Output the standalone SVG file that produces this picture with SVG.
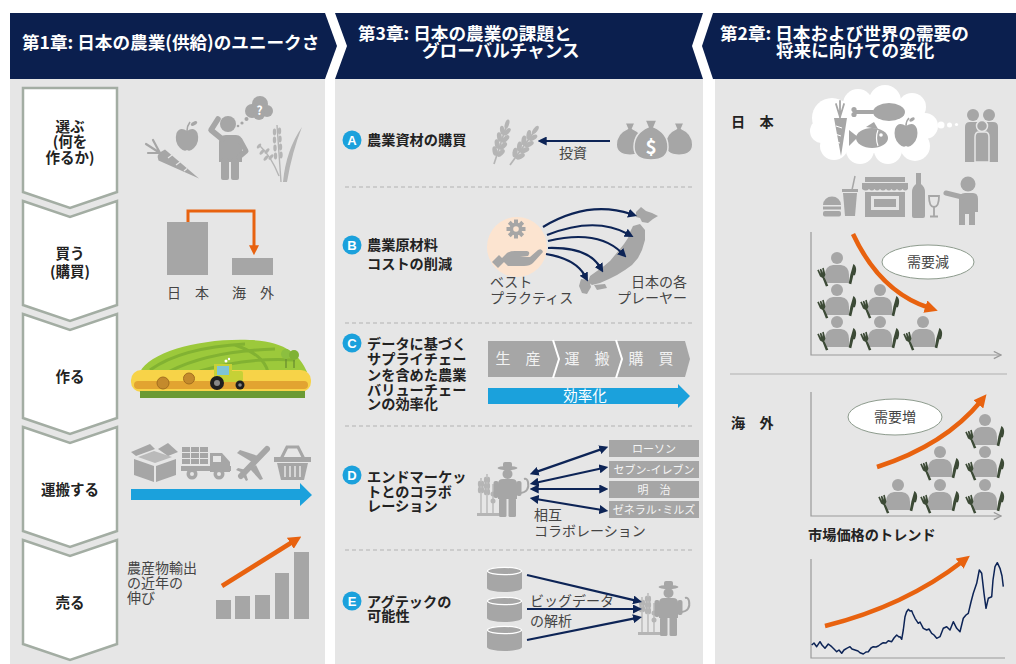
<svg xmlns="http://www.w3.org/2000/svg" width="1016" height="664" viewBox="0 0 1016 664">
<style>
text{font-family:"Noto Sans CJK JP","Noto Sans",sans-serif}
.hd{fill:#fff;font-size:17.6px;font-weight:bold}
.step{fill:#222;font-size:14.5px;font-weight:bold;text-anchor:middle}
.lbl{fill:#222;font-size:14.2px;font-weight:bold}
.txt{fill:#444;font-size:14px}
.ico{fill:#a6a6a6}
.lt{fill:#b5b5b5}
.panel{fill:#e6e6e6}
.chev{fill:#fff;stroke:#a3ada3;stroke-width:2.5}
.sep{stroke:#b2b2b2;stroke-width:1;stroke-dasharray:4 3;fill:none}
.badge{fill:#1ba1dc}
.bt{fill:#fff;font-size:13px;font-weight:bold;text-anchor:middle;font-family:"Liberation Sans",sans-serif}
.nv{stroke:#0d2456;stroke-width:2.2;fill:none}
.or{stroke:#e8620f;stroke-width:4.5;fill:none}
.axis{stroke:#9a9a9a;stroke-width:1.2;fill:none}
.tag{fill:#a6a6a6}
.tt{fill:#f5f5f5;font-size:11px;text-anchor:middle}
.util{fill:#3c4a36}
.blue{fill:#1ba1dc}
.oval{fill:#fff;stroke:#8d9b8d;stroke-width:1}
.seg{fill:#f2f2f2;font-size:15px;text-anchor:middle}
</style>
<defs>
<marker id="hNv" viewBox="0 0 10 10" refX="3" refY="5" markerWidth="9" markerHeight="9" markerUnits="userSpaceOnUse" orient="auto-start-reverse"><path d="M0,0L10,5L0,10Z" fill="#0d2456"/></marker>
<marker id="hOr" viewBox="0 0 12 12" refX="4" refY="6" markerWidth="13" markerHeight="13" markerUnits="userSpaceOnUse" orient="auto"><path d="M0,0L12,6L0,12Z" fill="#e8620f"/></marker>
<marker id="hOrS" viewBox="0 0 12 12" refX="4" refY="6" markerWidth="10" markerHeight="10" markerUnits="userSpaceOnUse" orient="auto"><path d="M0,0L12,6L0,12Z" fill="#e8620f"/></marker>
<marker id="hAx" viewBox="0 0 10 10" refX="9" refY="5" markerWidth="9" markerHeight="9" markerUnits="userSpaceOnUse" orient="auto"><path d="M1,1L9,5L1,9" fill="none" stroke="#9a9a9a" stroke-width="1.4"/></marker>
<!-- seated diner holding fork and knife, origin = head centre -->
<g id="diner">
<circle cx="0" cy="0" r="6" class="ico"/>
<path class="ico" d="M-12,25V17Q-12,8 -4,7H4Q12,8 12,17V25Z"/>
<g class="util">
<path d="M-18,9h1.4l.4,4 .6-4h1.2l.4,4 .6-4h1.4l-.6,6-1.6,2 .6,8h-2.2l-.2-8-1.6-2z" transform="rotate(-20 -15 16) translate(-17 -18) scale(1.15) translate(17 16)"/>
<path d="M13,7c3,1 4.5,4 4,9l-1.3,.4 .4,8h-2.3l-.8-8z" transform="rotate(16 15 15) translate(15 -2) scale(1.15) translate(-14 0)"/>
</g>
</g>
<!-- farmer with sickle beside wheat, origin = top-left -->
<g id="farmer">
<rect class="lt" x="0" y="51" width="22" height="3"/>
<path d="M4,51V16M10,51V12M16,51V22" stroke="#b5b5b5" stroke-width="1.3" fill="none"/>
<g class="lt">
<ellipse cx="2.5" cy="22" rx="1.6" ry="3.2"/><ellipse cx="5.5" cy="22" rx="1.6" ry="3.2"/>
<ellipse cx="2.5" cy="28" rx="1.6" ry="3.2"/><ellipse cx="5.5" cy="28" rx="1.6" ry="3.2"/>
<ellipse cx="8.5" cy="18" rx="1.6" ry="3.2"/><ellipse cx="11.5" cy="18" rx="1.6" ry="3.2"/>
<ellipse cx="8.5" cy="24" rx="1.6" ry="3.2"/><ellipse cx="11.5" cy="24" rx="1.6" ry="3.2"/>
<ellipse cx="8.5" cy="30" rx="1.6" ry="3.2"/><ellipse cx="11.5" cy="30" rx="1.6" ry="3.2"/>
<circle cx="16" cy="32" r="2.5"/><circle cx="16" cy="39" r="2.5"/>
</g>
<g class="ico">
<rect x="26" y="0" width="9" height="6" rx="2"/>
<ellipse cx="30.5" cy="6" rx="10" ry="2"/>
<circle cx="30.5" cy="12" r="5"/>
<path d="M21,22Q21,17 26,17H35Q40,17 40,22V37H21Z"/>
<rect x="22" y="36" width="7.5" height="19" rx="1.5"/>
<rect x="31.5" y="36" width="7.5" height="19" rx="1.5"/>
<rect x="16.5" y="19" width="5" height="17" rx="2"/>
<rect x="39.5" y="19" width="5" height="15" rx="2"/>
</g>
<path d="M43,31Q53,30 51,20Q50,16 47,17" fill="none" stroke="#a6a6a6" stroke-width="2"/>
</g>
<!-- ear of grain, origin = stem base -->
<g id="ear">
<path d="M0,0V-42" stroke="#b5b5b5" stroke-width="1.6" fill="none"/>
<g class="lt">
<ellipse cx="-3" cy="-12" rx="2.3" ry="4.6" transform="rotate(-28 -3 -12)"/>
<ellipse cx="3" cy="-12" rx="2.3" ry="4.6" transform="rotate(28 3 -12)"/>
<ellipse cx="-3" cy="-19" rx="2.3" ry="4.6" transform="rotate(-28 -3 -19)"/>
<ellipse cx="3" cy="-19" rx="2.3" ry="4.6" transform="rotate(28 3 -19)"/>
<ellipse cx="-3" cy="-26" rx="2.3" ry="4.6" transform="rotate(-28 -3 -26)"/>
<ellipse cx="3" cy="-26" rx="2.3" ry="4.6" transform="rotate(28 3 -26)"/>
<ellipse cx="-2.5" cy="-33" rx="2.1" ry="4.3" transform="rotate(-25 -2.5 -33)"/>
<ellipse cx="2.5" cy="-33" rx="2.1" ry="4.3" transform="rotate(25 2.5 -33)"/>
<ellipse cx="0" cy="-40" rx="2" ry="4.5"/>
</g>
</g>
<!-- database cylinder, origin = top-left -->
<g id="db">
<path class="ico" d="M0,4A17.5,4 0 0 1 35,4V21A17.5,4 0 0 1 0,21Z"/>
<ellipse cx="17.5" cy="4" rx="17" ry="3.6" fill="none" stroke="#fff" stroke-width="1.3"/>
</g>
<!-- money bag, origin = top centre -->
<path id="bag" d="M-6,0H6L3,7Q17,13 17,27Q17,40 0,40Q-17,40 -17,27Q-17,13 -3,7Z"/>
</defs>

<!-- header band -->
<g id="header">
<path d="M10,13H325L337,46L325,79H10Z" fill="#0b1f4e"/>
<path d="M335,13H703L692,46L703,79H335L347,46Z" fill="#0b1f4e"/>
<path d="M713,13H1016V79H713L702,46Z" fill="#0b1f4e"/>
<text class="hd" x="22" y="49">第1章: 日本の農業(供給)のユニークさ</text>
<text class="hd" x="358" y="40">第3章: 日本の農業の課題と</text>
<text class="hd" x="422" y="57">グローバルチャンス</text>
<text class="hd" x="720" y="40">第2章: 日本および世界の需要の</text>
<text class="hd" x="776" y="57">将来に向けての変化</text>
</g>

<rect class="panel" x="10" y="79" width="315" height="585"/>
<rect class="panel" x="335" y="79" width="368" height="585"/>
<rect class="panel" x="715" y="79" width="301" height="585"/>

<!-- chapter 1: process steps -->
<g id="step-choose">
<path class="chev" d="M23,88H117V192L70,208L23,192Z"/>
<text class="step" x="70" y="132">選ぶ</text>
<text class="step" x="70" y="147">(何を</text>
<text class="step" x="70" y="163">作るか)</text>
</g>
<g id="step-buy">
<path class="chev" d="M23,201L70,217L117,201V305L70,321L23,305Z"/>
<text class="step" x="70" y="259">買う</text>
<text class="step" x="70" y="277">(購買)</text>
</g>
<g id="step-make">
<path class="chev" d="M23,314L70,330L117,314V418L70,434L23,418Z"/>
<text class="step" x="70" y="382">作る</text>
</g>
<g id="step-carry">
<path class="chev" d="M23,427L70,443L117,427V531L70,547L23,531Z"/>
<text class="step" x="70" y="495">運搬する</text>
</g>
<g id="step-sell">
<path class="chev" d="M23,540L70,556L117,540V644L70,660L23,644Z"/>
<text class="step" x="70" y="608">売る</text>
</g>

<!-- choose: crops and a thinking farmer -->
<g id="choose-icons">
<path class="ico" d="M165,149.5L199,178.5L158.5,160.5Q155,154 165,149.5Z"/>
<path d="M168,158l4-3M176,165l4-3M184,171l3-2.5" stroke="#e6e6e6" stroke-width="1.2"/>
<path d="M160,153L146,144M160,153L148,153M160,153L153,140" stroke="#a6a6a6" stroke-width="2.2" stroke-linecap="round"/>
<path class="ico" d="M187,131Q180,126 176.5,133Q174,142 180,148Q184,152 187,150Q190,152 194,148Q200,142 197.5,133Q194,126 187,131Z"/>
<path d="M187,131Q187,126 190,122" stroke="#a6a6a6" stroke-width="1.6" fill="none"/>
<ellipse class="ico" cx="194" cy="123.5" rx="3.5" ry="1.8" transform="rotate(-30 194 123.5)"/>
<circle class="ico" cx="228" cy="124" r="8"/>
<path class="ico" d="M219,142Q219,135 226,135H236Q242,135 242,142V162H219Z"/>
<rect class="ico" x="221" y="158" width="8" height="22" rx="2"/>
<rect class="ico" x="231" y="158" width="8" height="22" rx="2"/>
<path d="M222,139L211,130L218,119" stroke="#a6a6a6" stroke-width="5.5" fill="none" stroke-linecap="round" stroke-linejoin="round"/>
<path d="M240,140L246,151L239,157" stroke="#a6a6a6" stroke-width="5" fill="none" stroke-linecap="round" stroke-linejoin="round"/>
<circle class="ico" cx="238" cy="126" r="1.3"/>
<circle class="ico" cx="242" cy="123" r="1.6"/>
<circle class="ico" cx="246.5" cy="119" r="2"/>
<g class="ico">
<circle cx="252" cy="111" r="7"/><circle cx="260" cy="104" r="8"/><circle cx="267" cy="111" r="6"/><circle cx="259" cy="114" r="6"/>
</g>
<text x="259.5" y="115" fill="#fff" font-size="12" font-weight="bold" text-anchor="middle" font-family="Liberation Sans, sans-serif">?</text>
<path class="lt" d="M283,182Q286,150 302,127Q292,152 287,182Z"/>
<path d="M281,182Q279,152 277,125M279,176Q271,156 260,146" stroke="#b5b5b5" stroke-width="1.4" fill="none"/>
<g class="lt">
<ellipse cx="274.5" cy="132" rx="1.7" ry="3.4"/><ellipse cx="279.5" cy="131" rx="1.7" ry="3.4"/>
<ellipse cx="274.5" cy="140" rx="1.7" ry="3.4"/><ellipse cx="280" cy="139" rx="1.7" ry="3.4"/>
<ellipse cx="275" cy="148" rx="1.7" ry="3.4"/><ellipse cx="280.5" cy="147" rx="1.7" ry="3.4"/>
<ellipse cx="275.5" cy="156" rx="1.7" ry="3.4"/><ellipse cx="281" cy="155" rx="1.7" ry="3.4"/>
<ellipse cx="262" cy="152" rx="1.6" ry="3.2" transform="rotate(40 262 152)"/>
<ellipse cx="267" cy="151" rx="1.6" ry="3.2" transform="rotate(40 267 151)"/>
<ellipse cx="266" cy="158" rx="1.6" ry="3.2" transform="rotate(40 266 158)"/>
<ellipse cx="271" cy="157" rx="1.6" ry="3.2" transform="rotate(40 271 157)"/>
<ellipse cx="259" cy="146" rx="1.5" ry="3" transform="rotate(40 259 146)"/>
</g>
</g>

<!-- buy: domestic vs overseas -->
<g id="buy-chart">
<rect class="ico" x="167" y="222" width="41" height="53"/>
<rect class="ico" x="232" y="258" width="41" height="17"/>
<text class="txt" x="188" y="298" text-anchor="middle" fill="#333">日　本</text>
<text class="txt" x="253" y="298" text-anchor="middle" fill="#333">海　外</text>
</g>

<!-- make: farmland with tractor -->
<g id="farm">
<path d="M140,372C150,352 200,338 250,340C285,341 300,355 307,372Z" fill="#9cc93b"/>
<path d="M150,370C175,352 210,346 245,344M170,371C200,356 240,350 275,349M200,371C230,362 262,358 295,360M235,345C255,352 265,360 268,372" stroke="#82b232" stroke-width="3" fill="none"/>
<rect x="131" y="370" width="180" height="22" rx="10" fill="#f7d348"/>
<rect x="134" y="381" width="174" height="8" rx="4" fill="#e2a431"/>
<rect x="140" y="391" width="165" height="7" fill="#6b9a34"/>
<circle cx="163" cy="383" r="6" fill="#c48a2c" stroke="#a36f1f" stroke-width="1"/>
<circle cx="189" cy="378.5" r="5.5" fill="#c48a2c" stroke="#a36f1f" stroke-width="1"/>
<circle cx="286" cy="354" r="5" fill="#8cbf3f"/>
<circle cx="294" cy="355" r="5" fill="#7fb236"/>
<path d="M286,359V368M294,360V368" stroke="#6a8f30" stroke-width="1.3"/>
<rect x="221" y="371" width="22" height="11" rx="2" fill="#c6d136"/>
<path d="M214,364H232V381H214Z" fill="#c6d136"/>
<rect x="217" y="366" width="12" height="9" fill="#7ec4d6"/>
<circle cx="226" cy="361" r="1.5" fill="#fff"/><circle cx="229" cy="359" r="1.2" fill="#fff"/>
<circle cx="217" cy="383" r="7" fill="#1f1f1f"/><circle cx="217" cy="383" r="3" fill="#888"/>
<circle cx="240" cy="385" r="4.5" fill="#1f1f1f"/><circle cx="240" cy="385" r="1.8" fill="#888"/>
</g>

<!-- carry: transport chain -->
<g id="transport">
<path class="ico" d="M134,459L154,466V482L134,475Z"/>
<path class="ico" d="M156,466L176,459V475L156,482Z"/>
<path class="ico" d="M131,452L150,444L155,449L136,456Z"/>
<path class="ico" d="M158,449L168,443L178,452L168,456Z"/>
<path class="ico" d="M138,457L154,451L172,457L155,463Z" opacity=".7"/>
<g class="ico">
<rect x="182" y="447" width="8" height="5"/><rect x="191" y="447" width="8" height="5"/><rect x="200" y="447" width="8" height="5"/>
<rect x="182" y="453" width="8" height="5"/><rect x="191" y="453" width="8" height="5"/><rect x="200" y="453" width="8" height="5"/>
<rect x="182" y="459" width="8" height="5"/><rect x="191" y="459" width="8" height="5"/><rect x="200" y="459" width="8" height="5"/>
<path d="M210,453H222L230,462V472H210Z"/>
<rect x="181" y="466" width="50" height="5"/>
</g>
<rect x="213" y="456" width="8" height="6" fill="#e6e6e6"/>
<circle class="ico" cx="192" cy="474" r="5.5"/><circle cx="192" cy="474" r="2" fill="#e6e6e6"/>
<circle class="ico" cx="219" cy="474" r="5.5"/><circle cx="219" cy="474" r="2" fill="#e6e6e6"/>
<path d="M241,476L267,449" stroke="#a6a6a6" stroke-width="6" stroke-linecap="round"/>
<path class="ico" d="M252,462L237,453L240,450L258,456Z"/>
<path class="ico" d="M256,465L263,479L260,480L250,469Z"/>
<path class="ico" d="M243,473L236,470L238,468L246,470Z"/>
<path class="ico" d="M246,474L248,480L246,481L243,476Z"/>
<path d="M281,459L287,447H298L304,459" stroke="#a6a6a6" stroke-width="3" fill="none"/>
<rect class="ico" x="274" y="457" width="37" height="5"/>
<path class="ico" d="M277,463H308L304,480H281Z"/>
<path d="M285,466V477M290,466V477M295,466V477M300,466V477" stroke="#e6e6e6" stroke-width="1.5"/>
<path class="blue" d="M131,489H300V483L312,495L300,506V500H131Z"/>
</g>

<!-- sell: export growth -->
<g id="sell-chart">
<text class="txt" x="127" y="573" fill="#555">農産物輸出</text>
<text class="txt" x="127" y="588" fill="#555">の近年の</text>
<text class="txt" x="127" y="603" fill="#555">伸び</text>
<g class="ico">
<rect x="216" y="600" width="15" height="19"/>
<rect x="235" y="596" width="15" height="23"/>
<rect x="255" y="595" width="15" height="24"/>
<rect x="275" y="573" width="14" height="46"/>
<rect x="294" y="552" width="15" height="67"/>
</g>
</g>

<!-- chapter 3 -->
<g id="separators">
<path class="sep" d="M345,187H693M345,323H693M345,426H693M345,550H693"/>
</g>

<g id="item-a">
<circle class="badge" cx="352" cy="140" r="9.5"/>
<text class="bt" x="352" y="144.5">A</text>
<text class="lbl" x="367" y="145">農業資材の購買</text>
<use href="#ear" transform="translate(494,164) rotate(18) scale(1.05)"/>
<use href="#ear" transform="translate(510,165) rotate(36) scale(1.08)"/>
<text class="txt" x="573" y="158" text-anchor="middle">投資</text>
<g class="ico" stroke="#e6e6e6" stroke-width="1.5">
<use href="#bag" transform="translate(630,123) scale(0.8)"/>
<use href="#bag" transform="translate(679,123) scale(0.8)"/>
<use href="#bag" transform="translate(651,120)"/>
</g>
<text x="651" y="154" fill="#fff" font-size="19" font-weight="bold" text-anchor="middle" font-family="Liberation Sans, sans-serif">$</text>
</g>

<g id="item-b">
<circle class="badge" cx="352" cy="245" r="9.5"/>
<text class="bt" x="352" y="249.5">B</text>
<text class="lbl" x="367" y="250">農業原材料</text>
<text class="lbl" x="367" y="269">コストの削減</text>
<circle cx="517" cy="247" r="30" fill="#fce4d0"/>
<g transform="translate(516,229)" class="ico">
<circle r="6.5"/>
<rect x="-2" y="-9.5" width="4" height="5"/>
<rect x="-2" y="-9.5" width="4" height="5" transform="rotate(45)"/>
<rect x="-2" y="-9.5" width="4" height="5" transform="rotate(90)"/>
<rect x="-2" y="-9.5" width="4" height="5" transform="rotate(135)"/>
<rect x="-2" y="-9.5" width="4" height="5" transform="rotate(180)"/>
<rect x="-2" y="-9.5" width="4" height="5" transform="rotate(225)"/>
<rect x="-2" y="-9.5" width="4" height="5" transform="rotate(270)"/>
<rect x="-2" y="-9.5" width="4" height="5" transform="rotate(315)"/>
</g>
<circle cx="516" cy="229" r="2.8" fill="#fce4d0"/>
<path class="ico" d="M492,262L499,255L505,261L498,268Z"/>
<path class="ico" d="M501,259L507,253Q510,251 515,251L527,251Q531,252 528,256L520,257L530,257L538,250Q542,248 543,252L533,263Q530,266 524,266L508,266Z"/>
<g class="ico">
<path d="M636,212L641,207L646,211L652,213L658,216L653,219L648,223L642,222L640,218L636,217Z"/>
<path d="M633,226L640,224L645,230L645,240L642,250L638,258L632,265L625,270L617,275L609,279L600,283L592,285L588,282L590,276L597,271L604,266L610,261L615,255L620,249L624,244L628,238L630,232Z"/>
<path d="M581,279L589,280L591,287L587,294L582,293L579,286Z"/>
<path d="M594,285L605,284L607,288L597,290Z"/>
</g>
<text class="txt" x="490" y="287">ベスト</text>
<text class="txt" x="490" y="303">プラクティス</text>
<text class="txt" x="687" y="287" text-anchor="end">日本の各</text>
<text class="txt" x="687" y="303" text-anchor="end">プレーヤー</text>
</g>

<g id="item-c">
<circle class="badge" cx="352" cy="343" r="9.5"/>
<text class="bt" x="352" y="347.5">C</text>
<text class="lbl" x="367" y="349">データに基づく</text>
<text class="lbl" x="367" y="364">サプライチェー</text>
<text class="lbl" x="367" y="380">ンを含めた農業</text>
<text class="lbl" x="367" y="395">バリューチェー</text>
<text class="lbl" x="367" y="409">ンの効率化</text>
<path class="ico" d="M488,341H685L690,359L685,377H488Z"/>
<path d="M553,340L559,359L553,378M616,340L622,359L616,378" stroke="#fff" stroke-width="2" fill="none"/>
<text class="seg" x="518" y="364">生　産</text>
<text class="seg" x="587" y="364">運　搬</text>
<text class="seg" x="651" y="364">購　買</text>
<path class="blue" d="M488,388H678V384L690,396L678,408V404H488Z"/>
<text x="585" y="401" fill="#fff" font-size="14.5" text-anchor="middle">効率化</text>
</g>

<g id="item-d">
<circle class="badge" cx="352" cy="475" r="9.5"/>
<text class="bt" x="352" y="479.5">D</text>
<text class="lbl" x="367" y="482">エンドマーケッ</text>
<text class="lbl" x="367" y="497">トとのコラボ</text>
<text class="lbl" x="367" y="511">レーション</text>
<use href="#farmer" transform="translate(477,462)"/>
<rect class="tag" x="609" y="440" width="90" height="17"/>
<rect class="tag" x="609" y="461" width="90" height="17"/>
<rect class="tag" x="609" y="481" width="90" height="17"/>
<rect class="tag" x="609" y="501" width="90" height="17"/>
<text class="tt" x="654" y="452.5">ローソン</text>
<text class="tt" x="654" y="473.5">セブン-イレブン</text>
<text class="tt" x="654" y="493.5">明　治</text>
<text class="tt" x="654" y="513.5">ゼネラル･ミルズ</text>
<text class="txt" x="534" y="520">相互</text>
<text class="txt" x="534" y="536">コラボレーション</text>
</g>

<g id="item-e">
<circle class="badge" cx="352" cy="601" r="9.5"/>
<text class="bt" x="352" y="605.5">E</text>
<text class="lbl" x="367" y="607">アグテックの</text>
<text class="lbl" x="367" y="621">可能性</text>
<use href="#db" transform="translate(487,567)"/>
<use href="#db" transform="translate(487,597)"/>
<use href="#db" transform="translate(487,626)"/>
<text class="txt" x="530" y="606">ビッグデータ</text>
<text class="txt" x="530" y="626">の解析</text>
<use href="#farmer" transform="translate(638,581)"/>
</g>

<!-- chapter 2 -->
<g id="japan-demand">
<text class="lbl" x="731" y="127" font-size="14">日　本</text>
<g fill="#fff">
<ellipse cx="872" cy="127" rx="45" ry="26"/>
<circle cx="832" cy="118" r="20"/><circle cx="858" cy="104" r="15"/><circle cx="885" cy="101" r="16"/>
<circle cx="912" cy="107" r="14"/><circle cx="925" cy="126" r="13"/><circle cx="915" cy="146" r="15"/>
<circle cx="888" cy="150" r="14"/><circle cx="860" cy="150" r="14"/><circle cx="834" cy="146" r="14"/>
<circle cx="822" cy="131" r="12"/>
<circle cx="941" cy="125" r="3.5"/><circle cx="949.5" cy="125" r="2.5"/><circle cx="956.5" cy="124.5" r="1.6"/>
</g>
<path class="ico" d="M834,118H847L841,156Z"/>
<path d="M840,118L840,101M840,117L836,104M840,117L844,104" stroke="#a6a6a6" stroke-width="1.8" stroke-linecap="round"/>
<path d="M836,126l6,2M835,134l6,2M836,142l4,1" stroke="#fff" stroke-width="1"/>
<path d="M855,112H873" stroke="#a6a6a6" stroke-width="4" stroke-linecap="round"/>
<circle class="ico" cx="854" cy="109.5" r="2.6"/><circle class="ico" cx="854" cy="114.5" r="2.6"/>
<ellipse class="ico" cx="889" cy="112" rx="16" ry="9"/>
<path class="ico" d="M849,130L858,137L849,146Z"/>
<ellipse class="ico" cx="872" cy="138" rx="16" ry="10"/>
<path class="ico" d="M866,127L874,122L878,129Z"/>
<circle cx="881" cy="135" r="1.8" fill="#fff"/>
<path d="M878,130Q875,138 878,146" stroke="#fff" stroke-width="1.2" fill="none"/>
<path class="ico" d="M906,126Q898,121 895,129Q893,138 899,144Q903,148 906,146Q909,148 913,144Q919,138 917,129Q914,121 906,126Z"/>
<path d="M906,126Q906,121 909,118" stroke="#a6a6a6" stroke-width="1.5" fill="none"/>
<ellipse class="ico" cx="912" cy="119.5" rx="3" ry="1.6" transform="rotate(-30 912 119.5)"/>
<g class="ico">
<circle cx="973" cy="115" r="6"/><circle cx="989" cy="115" r="6"/>
<path d="M965,127Q965,122 970,122H977Q982,122 982,127V162H965Z"/>
<path d="M981,127Q981,122 986,122H993Q998,122 998,127V162H981Z"/>
</g>
<circle cx="982" cy="126" r="5.5" class="ico" stroke="#e6e6e6" stroke-width="1.5"/>
<path class="ico" d="M975,137Q975,132 979,132H985Q989,132 989,137V162H975Z" stroke="#e6e6e6" stroke-width="1.5"/>
<path class="ico" d="M823,205A9,8.5 0 0 1 841,205Z"/>
<rect class="ico" x="823" y="206.5" width="18" height="3"/>
<rect class="ico" x="823" y="211" width="18" height="5.5" rx="2"/>
<rect class="ico" x="842" y="189" width="16" height="3"/>
<path class="ico" d="M843,193H857L855,216H845Z"/>
<path d="M852,190L855,176" stroke="#a6a6a6" stroke-width="1.5"/>
<rect class="ico" x="865" y="177" width="40" height="5"/>
<path class="ico" d="M862,183H908V189Q905,192 902.5,189Q900,192 897,189Q894,192 891.5,189Q889,192 886,189Q883,192 880,189Q877,192 874.5,189Q872,192 869,189Q866,192 862,189Z"/>
<rect class="ico" x="865" y="192" width="40" height="25"/>
<rect x="871" y="196" width="28" height="14" fill="#e6e6e6"/>
<rect class="ico" x="874" y="199" width="22" height="8"/>
<rect class="ico" x="916" y="173" width="5" height="13"/>
<path class="ico" d="M916,184H921Q925,187 925,192V216Q925,218 923,218H914Q912,218 912,216V192Q912,187 916,184Z"/>
<path d="M929,196H939Q939,207 934,207Q929,207 929,196ZM934,207V216M930,216.5H938" stroke="#a6a6a6" stroke-width="1.8" fill="none"/>
<circle class="ico" cx="968" cy="184" r="7.5"/>
<path class="ico" d="M959,199Q959,193 965,193H973Q978,193 978,199V212H975V225H969V214H965V225H959Z"/>
<path d="M962,197L946,193" stroke="#a6a6a6" stroke-width="5" stroke-linecap="round"/>
</g>

<g id="japan-chart">
<path class="axis" d="M811,232V355H1001" marker-end="url(#hAx)"/>
<ellipse class="oval" cx="928" cy="262" rx="46" ry="17"/>
<text class="txt" x="928" y="267" text-anchor="middle">需要減</text>
<use href="#diner" x="837" y="258"/>
<use href="#diner" x="837" y="290"/>
<use href="#diner" x="880" y="290"/>
<use href="#diner" x="837" y="322"/>
<use href="#diner" x="880" y="322"/>
<use href="#diner" x="923" y="322"/>
</g>

<path d="M730,374H1007" stroke="#b0b0b0" stroke-width="1"/>

<g id="overseas-chart">
<text class="lbl" x="731" y="428" font-size="14">海　外</text>
<path class="axis" d="M811,392V516H1001" marker-end="url(#hAx)"/>
<ellipse class="oval" cx="895" cy="417" rx="47" ry="18"/>
<text class="txt" x="895" y="422" text-anchor="middle">需要増</text>
<use href="#diner" x="985" y="420"/>
<use href="#diner" x="940" y="452"/>
<use href="#diner" x="985" y="452"/>
<use href="#diner" x="898" y="485"/>
<use href="#diner" x="940" y="485"/>
<use href="#diner" x="985" y="485"/>
</g>

<g id="price-trend">
<text class="lbl" x="808" y="540" font-size="14.5">市場価格のトレンド</text>
<path d="M811,559V658H1005" stroke="#9a9a9a" stroke-width="1.2" fill="none"/>
<polyline fill="none" stroke="#0d2456" stroke-width="1.5" stroke-linejoin="round" points="811.7,645 814,643 816.7,646.7 820,641.7 822,645 825,648.3 828.3,644 831.7,646.7 834,649 836.7,651.7 839,650 841.7,653.3 844,650 846.7,648.3 850,646.7 852,649 855,650 858,651 860,652.7 863.3,654 866,652 868.3,651.7 871,648 873.3,646.7 876,647 878.3,646 881,644 883.3,642.7 886,643 888.3,640.7 891.7,641.7 894,638 896.7,635 899,637 900,636.7 901.7,639.3 903.3,630 905,616.7 906.5,612 908.3,609.3 910,611 911.7,610.7 913,614 915,618.3 918.3,623.3 920,622 923.3,628.3 926.7,630 929,629 931.7,633.3 934,635 936.7,638.3 940,636.7 943.3,628.3 946.7,626.7 950,630 953.3,621.7 956.7,628.3 960,631.7 963.3,618.3 966,615 968.3,613.3 971,602 973.3,593.3 976.7,583.3 979.3,570 981.7,573.3 984,593.3 986,608.3 988.3,598.3 991.7,596.7 993,580 995,566.7 997.3,562.7 1000,568.3 1002,576 1003.3,586.7"/>
</g>

<!-- connectors -->
<g id="connectors">
<path d="M188,222V211H254V248.5" stroke="#e8620f" stroke-width="3" fill="none" marker-end="url(#hOrS)"/>
<path class="or" d="M222,586L294,541" marker-end="url(#hOr)"/>
<path class="nv" d="M610,141H544" marker-end="url(#hNv)"/>
<path class="nv" d="M543,227Q588,200 631,214" marker-end="url(#hNv)"/>
<path class="nv" d="M547,235Q595,216 628,234" marker-end="url(#hNv)"/>
<path class="nv" d="M548,241Q598,229 622,253" marker-end="url(#hNv)"/>
<path class="nv" d="M548,248Q588,247 600,267" marker-end="url(#hNv)"/>
<path class="nv" d="M546,254Q576,259 585,276" marker-end="url(#hNv)"/>
<path class="nv" d="M535.7,472.1L602.3,448.9" marker-start="url(#hNv)" marker-end="url(#hNv)"/>
<path class="nv" d="M535.9,482.7L602.1,468.3" marker-start="url(#hNv)" marker-end="url(#hNv)"/>
<path class="nv" d="M536,489L602,489" marker-start="url(#hNv)" marker-end="url(#hNv)"/>
<path class="nv" d="M535.9,499L602.1,510" marker-start="url(#hNv)" marker-end="url(#hNv)"/>
<path class="nv" d="M527,575L635.9,600.6" marker-end="url(#hNv)"/>
<path class="nv" d="M527,609L635.7,609" marker-end="url(#hNv)"/>
<path class="nv" d="M527,640L635.8,618.2" marker-end="url(#hNv)"/>
<path class="or" d="M853,234Q880,292 929.5,308" marker-end="url(#hOr)"/>
<path class="or" d="M877,467Q945,445 981,401" marker-end="url(#hOr)"/>
<path class="or" d="M825,626Q905,606 963,561" marker-end="url(#hOr)"/>
</g>
</svg>
